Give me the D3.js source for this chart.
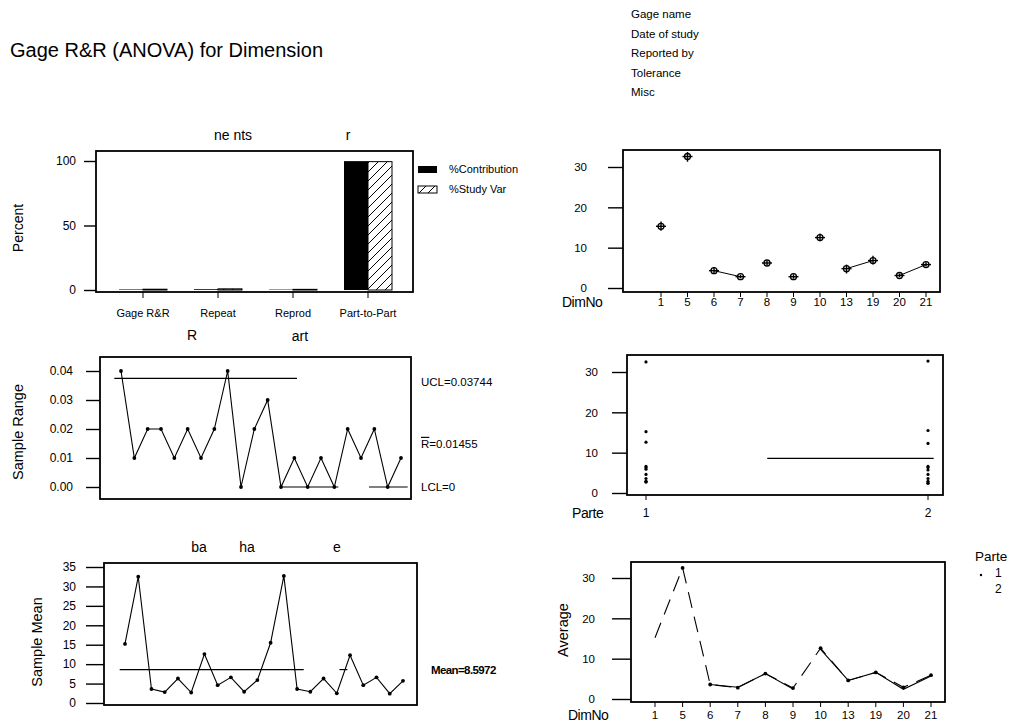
<!DOCTYPE html>
<html>
<head>
<meta charset="utf-8">
<script src="https://cdn.jsdelivr.net/npm/d3@7"></script>
<style>
body { margin: 0; background: #fff; }
svg { font-family: "Liberation Sans", Arial, sans-serif; }
</style>
</head>
<body>
<div id="chart"></div>
<script>
// components of variation
var components = ["Gage R&R", "Repeat", "Reprod", "Part-to-Part"];
var pctContribution = [0.4, 0.6, 0.3, 99.9];
var pctStudyVar = [0.6, 0.9, 0.5, 99.5];
var percentTicks = [0, 50, 100];

// R chart by Parte (11 parts x 2 partes)
var sampleRange = [0.04, 0.01, 0.02, 0.02, 0.01, 0.02, 0.01, 0.02, 0.04, 0.00, 0.02,
                   0.03, 0.00, 0.01, 0.00, 0.01, 0.00, 0.02, 0.01, 0.02, 0.00, 0.01];
var rangeTicks = [0, 0.01, 0.02, 0.03, 0.04];
var uclR = 0.03744, rBar = 0.01455, lclR = 0;
// pieces of the limit lines still visible in the print (sample index from/to)
var uclPieces = [[0.5, 14.2]];
var lclPieces = [[13.0, 17.3], [19.6, 22.5]];

// Xbar chart by Parte
var sampleMean = [15.2, 32.5, 3.6, 2.8, 6.3, 2.7, 12.6, 4.6, 6.6, 2.9, 5.9,
                  15.5, 32.7, 3.6, 2.9, 6.3, 2.5, 12.3, 4.6, 6.6, 2.4, 5.7];
var meanTicks = [0, 5, 10, 15, 20, 25, 30, 35];
var grandMean = 8.5972;
var meanPieces = [[0.6, 14.5], [17.2, 17.8]];

// by DimNo
var dimNo = ["1", "5", "6", "7", "8", "9", "10", "13", "19", "20", "21"];
var dimMean = [15.3, 32.6, 4.3, 2.8, 6.2, 2.8, 12.5, 4.8, 6.8, 3.1, 5.8];
var dimLow  = [14.2, 31.3, 3.6, 2.4, 5.7, 2.3, 11.6, 3.6, 5.8, 2.7, 5.3];
var dimHigh = [16.5, 33.7, 5.2, 3.3, 6.7, 3.4, 13.5, 5.8, 8.0, 3.6, 6.4];
var dimLinks = [[2, 3], [7, 8], [9, 10]];
var tenTicks = [0, 10, 20, 30];

// by Parte
var partes = [1, 2];
var parte1 = sampleMean.slice(0, 11);
var parte2 = sampleMean.slice(11);
var parteMeanPiece = [1.43, 2.02];

// interaction, solid pieces of the parte 2 line (index from/to)
var parte2Pieces = [[2, 5], [6, 10]];

var headerLines = ["Gage name", "Date of study", "Reported by", "Tolerance", "Misc"];

var svg = d3.select("#chart").append("svg").attr("width", 1014).attr("height", 727);

svg.append("text").attr("x", 10).attr("y", 57).attr("font-size", 20)
    .text("Gage R&R (ANOVA) for Dimension");

headerLines.forEach(function (t, i) {
    svg.append("text").attr("x", 631).attr("y", 18 + i * 19.6).attr("font-size", 11.5).text(t);
});

// hatch pattern
var defs = svg.append("defs");
var pat = defs.append("pattern").attr("id", "hatch").attr("patternUnits", "userSpaceOnUse")
    .attr("width", 9).attr("height", 9);
pat.append("rect").attr("width", 9).attr("height", 9).attr("fill", "#fff");
pat.append("path").attr("d", "M0,9 L9,0 M-2,2 L2,-2 M7,11 L11,7").attr("stroke", "#000").attr("stroke-width", 1);

function frame(x0, y0, x1, y1) {
    svg.append("rect").attr("x", x0).attr("y", y0).attr("width", x1 - x0).attr("height", y1 - y0)
        .attr("fill", "none").attr("stroke", "#000").attr("stroke-width", 1.8);
}

function leftAxis(scale, x, ticks, fmt, size, pad, fs) {
    var g = svg.append("g").attr("transform", "translate(" + x + ",0)")
        .call(d3.axisLeft(scale).tickValues(ticks).tickFormat(fmt).tickSize(size).tickPadding(pad).tickSizeOuter(0));
    g.select(".domain").remove();
    g.selectAll("line").attr("stroke-width", 1.4);
    g.selectAll("text").attr("font-size", fs || 11.5).attr("font-family", "Liberation Sans, Arial, sans-serif");
    return g;
}

function label(x, y, t, size, rot) {
    var el = svg.append("text").attr("font-size", size).attr("text-anchor", "middle")
        .attr("dominant-baseline", "central").text(t);
    if (rot) el.attr("transform", "translate(" + x + "," + y + ") rotate(-90)");
    else el.attr("x", x).attr("y", y);
    return el;
}

// ---------- components of variation ----------
var cx = d3.scalePoint().domain(components).range([143, 368]);
var cy = d3.scaleLinear().domain([0, 100]).range([290, 161]);
var barW = 24;
svg.selectAll(".contrib").data(components).enter().append("rect")
    .attr("x", function (d) { return cx(d) - barW; })
    .attr("y", function (d, i) { return cy(pctContribution[i]); })
    .attr("width", barW)
    .attr("height", function (d, i) { return cy(0) - cy(pctContribution[i]); })
    .attr("fill", "#000");
svg.selectAll(".study").data(components).enter().append("rect")
    .attr("x", function (d) { return cx(d); })
    .attr("y", function (d, i) { return cy(pctStudyVar[i]); })
    .attr("width", barW)
    .attr("height", function (d, i) { return cy(0) - cy(pctStudyVar[i]); })
    .attr("fill", "url(#hatch)").attr("stroke", "#000").attr("stroke-width", 1);
frame(96, 151, 413, 292);
leftAxis(cy, 96, percentTicks, d3.format("d"), 12, 8, 12);
components.forEach(function (c) {
    svg.append("line").attr("x1", cx(c)).attr("x2", cx(c)).attr("y1", 292).attr("y2", 298).attr("stroke", "#000");
    label(cx(c), 313, c, 11);
});
label(18, 228, "Percent", 14, true);
label(233, 135, "ne nts", 14);
label(348, 135, "r", 14);
svg.append("rect").attr("x", 418).attr("y", 166).attr("width", 19).attr("height", 7).attr("fill", "#000");
svg.append("rect").attr("x", 418).attr("y", 186).attr("width", 19).attr("height", 7)
    .attr("fill", "url(#hatch)").attr("stroke", "#000");
svg.append("text").attr("x", 449).attr("y", 173).attr("font-size", 11).text("%Contribution");
svg.append("text").attr("x", 449).attr("y", 193).attr("font-size", 11).text("%Study Var");

// ---------- R chart ----------
var rx = d3.scaleLinear().domain([1, 22]).range([121, 401]);
var ry = d3.scaleLinear().domain([0, 0.04]).range([487, 371]);
frame(100, 357, 411, 499);
leftAxis(ry, 100, rangeTicks, d3.format(".2f"), 14, 13, 12);
uclPieces.forEach(function (p) {
    svg.append("line").attr("x1", rx(p[0])).attr("x2", rx(p[1])).attr("y1", ry(uclR)).attr("y2", ry(uclR))
        .attr("stroke", "#000").attr("stroke-width", 1.2);
});
lclPieces.forEach(function (p) {
    svg.append("line").attr("x1", rx(p[0])).attr("x2", rx(p[1])).attr("y1", ry(lclR)).attr("y2", ry(lclR))
        .attr("stroke", "#000").attr("stroke-width", 1.2);
});
svg.append("path").datum(sampleRange)
    .attr("d", d3.line().x(function (d, i) { return rx(i + 1); }).y(function (d) { return ry(d); }))
    .attr("fill", "none").attr("stroke", "#000").attr("stroke-width", 1.1);
svg.selectAll(".rpt").data(sampleRange).enter().append("circle")
    .attr("cx", function (d, i) { return rx(i + 1); }).attr("cy", function (d) { return ry(d); })
    .attr("r", 1.9).attr("fill", "#000");
svg.append("text").attr("x", 421).attr("y", ry(uclR) + 8).attr("font-size", 11.5).text("UCL=0.03744");
var rb = svg.append("text").attr("x", 421).attr("y", ry(rBar) + 3).attr("font-size", 11.5);
rb.append("tspan").style("text-decoration", "overline").text("R");
rb.append("tspan").text("=0.01455");
svg.append("text").attr("x", 421).attr("y", ry(lclR) + 4).attr("font-size", 11.5).text("LCL=0");
label(18, 432, "Sample Range", 14.5, true);
label(192, 335, "R", 14);
label(300, 336, "art", 14);

// ---------- Xbar chart ----------
var mx = d3.scaleLinear().domain([1, 22]).range([125, 403]);
var my = d3.scaleLinear().domain([0, 35]).range([703, 567]);
frame(104, 563, 417, 705);
leftAxis(my, 104, meanTicks, d3.format("d"), 18, 10, 12);
meanPieces.forEach(function (p) {
    svg.append("line").attr("x1", mx(p[0])).attr("x2", mx(p[1])).attr("y1", my(grandMean)).attr("y2", my(grandMean))
        .attr("stroke", "#000").attr("stroke-width", 1.2);
});
svg.append("path").datum(sampleMean)
    .attr("d", d3.line().x(function (d, i) { return mx(i + 1); }).y(function (d) { return my(d); }))
    .attr("fill", "none").attr("stroke", "#000").attr("stroke-width", 1.1);
svg.selectAll(".mpt").data(sampleMean).enter().append("circle")
    .attr("cx", function (d, i) { return mx(i + 1); }).attr("cy", function (d) { return my(d); })
    .attr("r", 1.9).attr("fill", "#000");
svg.append("text").attr("x", 431).attr("y", my(grandMean) + 4).attr("font-size", 11.5)
    .attr("font-weight", "bold").attr("letter-spacing", -0.6).text("Mean=8.5972");
label(37, 642, "Sample Mean", 14.5, true);
label(199, 547, "ba", 14);
label(247, 547, "ha", 14);
label(337, 547, "e", 14);

// ---------- by DimNo ----------
var dx = d3.scalePoint().domain(dimNo).range([661, 926]);
var dy = d3.scaleLinear().domain([0, 30]).range([288, 167]);
frame(623, 150, 940, 292);
leftAxis(dy, 623, tenTicks, d3.format("d"), 15, 21);
dimLinks.forEach(function (p) {
    svg.append("line").attr("x1", dx(dimNo[p[0]])).attr("x2", dx(dimNo[p[1]]))
        .attr("y1", dy(dimMean[p[0]])).attr("y2", dy(dimMean[p[1]])).attr("stroke", "#000");
});
dimNo.forEach(function (d, i) {
    var x = dx(d);
    svg.append("line").attr("x1", x).attr("x2", x).attr("y1", dy(dimLow[i])).attr("y2", dy(dimHigh[i]))
        .attr("stroke", "#000").attr("stroke-width", 1.4);
    svg.append("line").attr("x1", x - 5).attr("x2", x + 5).attr("y1", dy(dimMean[i])).attr("y2", dy(dimMean[i]))
        .attr("stroke", "#000").attr("stroke-width", 1.4);
    svg.append("circle").attr("cx", x).attr("cy", dy(dimMean[i])).attr("r", 3)
        .attr("fill", "none").attr("stroke", "#000").attr("stroke-width", 1.3);
    svg.append("line").attr("x1", x).attr("x2", x).attr("y1", 292).attr("y2", 297).attr("stroke", "#000");
    label(x, 302, d, 11.5);
});
svg.append("text").attr("x", 562).attr("y", 307).attr("font-size", 14).attr("letter-spacing", -0.5).text("DimNo");

// ---------- by Parte ----------
var px = d3.scaleLinear().domain([1, 2]).range([646, 928]);
var py = d3.scaleLinear().domain([0, 30]).range([493, 372]);
frame(627, 355, 943, 495);
leftAxis(py, 627, tenTicks, d3.format("d"), 15, 14);
svg.append("line").attr("x1", px(parteMeanPiece[0])).attr("x2", px(parteMeanPiece[1]))
    .attr("y1", py(grandMean)).attr("y2", py(grandMean)).attr("stroke", "#000").attr("stroke-width", 1.2);
[parte1, parte2].forEach(function (vals, k) {
    svg.selectAll(".pp" + k).data(vals).enter().append("circle")
        .attr("cx", px(partes[k])).attr("cy", function (d) { return py(d); })
        .attr("r", 1.6).attr("fill", "#000");
});
partes.forEach(function (p) {
    svg.append("line").attr("x1", px(p)).attr("x2", px(p)).attr("y1", 495).attr("y2", 500).attr("stroke", "#000");
    label(px(p), 513, String(p), 12);
});
svg.append("text").attr("x", 572).attr("y", 518).attr("font-size", 14).attr("letter-spacing", -0.4).text("Parte");

// ---------- interaction ----------
var ix = d3.scalePoint().domain(dimNo).range([655, 931]);
var iy = d3.scaleLinear().domain([0, 30]).range([699, 578]);
frame(631, 562, 945, 702);
leftAxis(iy, 631, tenTicks, d3.format("d"), 19, 17);
var iline = d3.line().x(function (d, i) { return ix(dimNo[i]); }).y(function (d) { return iy(d); });
svg.append("path").datum(parte1).attr("d", iline).attr("fill", "none").attr("stroke", "#000")
    .attr("stroke-width", 1.1).attr("stroke-dasharray", "16,9");
parte2Pieces.forEach(function (p) {
    var idx = d3.range(p[0], p[1] + 1);
    svg.append("path").datum(idx)
        .attr("d", d3.line().x(function (j) { return ix(dimNo[j]); }).y(function (j) { return iy(parte2[j]); }))
        .attr("fill", "none").attr("stroke", "#000").attr("stroke-width", 1.1);
});
svg.selectAll(".ipt").data(parte1.slice(1)).enter().append("circle")
    .attr("cx", function (d, i) { return ix(dimNo[i + 1]); }).attr("cy", function (d) { return iy(d); })
    .attr("r", 1.9).attr("fill", "#000");
dimNo.forEach(function (d) {
    svg.append("line").attr("x1", ix(d)).attr("x2", ix(d)).attr("y1", 702).attr("y2", 707).attr("stroke", "#000");
    label(ix(d), 715, d, 11.5);
});
svg.append("text").attr("x", 568).attr("y", 720).attr("font-size", 14).attr("letter-spacing", -0.5).text("DimNo");
label(563, 630, "Average", 14.5, true);
svg.append("text").attr("x", 975).attr("y", 561).attr("font-size", 13.5).text("Parte");
svg.append("circle").attr("cx", 981).attr("cy", 575).attr("r", 1.2).attr("fill", "#000");
svg.append("text").attr("x", 995).attr("y", 577).attr("font-size", 12).text("1");
svg.append("text").attr("x", 995).attr("y", 593).attr("font-size", 12).text("2");
</script>
</body>
</html>
